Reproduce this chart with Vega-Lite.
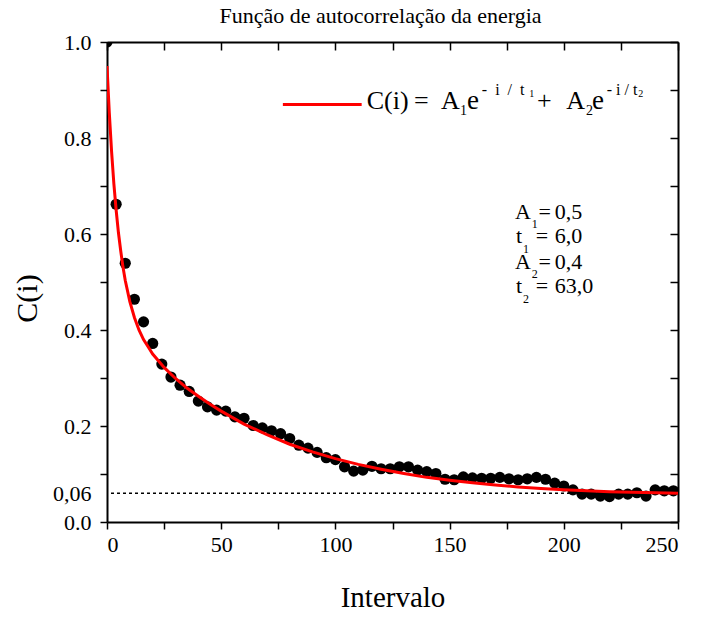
{
  "$schema": "https://vega.github.io/schema/vega-lite/v6.json",
  "width": 571,
  "height": 480,
  "autosize": "none",
  "padding": {"left": 107, "top": 42, "right": 23, "bottom": 95},
  "background": "white",
  "config": {
    "view": {"stroke": null},
    "font": "Liberation Serif",
    "text": {"font": "Liberation Serif", "color": "black", "align": "left", "baseline": "alphabetic"},
    "axis": {
      "grid": false,
      "domainColor": "black",
      "domainWidth": 2,
      "tickColor": "black",
      "tickWidth": 1.5,
      "labelFont": "Liberation Serif",
      "labelFontSize": 22,
      "labelColor": "black",
      "titleFont": "Liberation Serif",
      "titleFontWeight": "normal",
      "titleColor": "black",
      "labelOverlap": false
    }
  },
  "title": {
    "text": "Função de autocorrelação da energia",
    "font": "Liberation Serif",
    "fontSize": 22,
    "fontWeight": "normal",
    "color": "black",
    "anchor": "middle",
    "offset": 3,
    "dx": -12
  },
  "datasets": {
    "pts": [
      {"i": 0, "c": 1.0}, {"i": 4, "c": 0.662}, {"i": 8, "c": 0.539}, {"i": 12, "c": 0.464},
      {"i": 16, "c": 0.417}, {"i": 20, "c": 0.372}, {"i": 24, "c": 0.329}, {"i": 28, "c": 0.302},
      {"i": 32, "c": 0.285}, {"i": 36, "c": 0.272}, {"i": 40, "c": 0.252}, {"i": 44, "c": 0.240},
      {"i": 48, "c": 0.233}, {"i": 52, "c": 0.231}, {"i": 56, "c": 0.219}, {"i": 60, "c": 0.216},
      {"i": 64, "c": 0.201}, {"i": 68, "c": 0.196}, {"i": 72, "c": 0.190}, {"i": 76, "c": 0.184},
      {"i": 80, "c": 0.174}, {"i": 84, "c": 0.160}, {"i": 88, "c": 0.154}, {"i": 92, "c": 0.145},
      {"i": 96, "c": 0.134}, {"i": 100, "c": 0.130}, {"i": 104, "c": 0.115}, {"i": 108, "c": 0.106},
      {"i": 112, "c": 0.108}, {"i": 116, "c": 0.116}, {"i": 120, "c": 0.111}, {"i": 124, "c": 0.111},
      {"i": 128, "c": 0.115}, {"i": 132, "c": 0.115}, {"i": 136, "c": 0.108}, {"i": 140, "c": 0.105},
      {"i": 144, "c": 0.101}, {"i": 148, "c": 0.089}, {"i": 152, "c": 0.088}, {"i": 156, "c": 0.094},
      {"i": 160, "c": 0.092}, {"i": 164, "c": 0.091}, {"i": 168, "c": 0.091}, {"i": 172, "c": 0.093},
      {"i": 176, "c": 0.090}, {"i": 180, "c": 0.088}, {"i": 184, "c": 0.090}, {"i": 188, "c": 0.093},
      {"i": 192, "c": 0.089}, {"i": 196, "c": 0.081}, {"i": 200, "c": 0.075}, {"i": 204, "c": 0.067},
      {"i": 208, "c": 0.058}, {"i": 212, "c": 0.058}, {"i": 216, "c": 0.054}, {"i": 220, "c": 0.053},
      {"i": 224, "c": 0.058}, {"i": 228, "c": 0.058}, {"i": 232, "c": 0.061}, {"i": 236, "c": 0.054},
      {"i": 240, "c": 0.067}, {"i": 244, "c": 0.065}, {"i": 248, "c": 0.065}
    ],
    "fit": [
      {"i": 0, "c": 0.95}, {"i": 1, "c": 0.853}, {"i": 2, "c": 0.772}, {"i": 3, "c": 0.705},
      {"i": 4, "c": 0.650}, {"i": 5, "c": 0.603}, {"i": 6, "c": 0.565}, {"i": 7, "c": 0.531},
      {"i": 8, "c": 0.503}, {"i": 10, "c": 0.459}, {"i": 12, "c": 0.426}, {"i": 14, "c": 0.400},
      {"i": 16, "c": 0.380}, {"i": 18, "c": 0.365}, {"i": 20, "c": 0.350}, {"i": 25, "c": 0.322},
      {"i": 30, "c": 0.299}, {"i": 35, "c": 0.279}, {"i": 40, "c": 0.262}, {"i": 45, "c": 0.246},
      {"i": 50, "c": 0.231}, {"i": 60, "c": 0.204}, {"i": 70, "c": 0.182}, {"i": 80, "c": 0.162},
      {"i": 90, "c": 0.146}, {"i": 100, "c": 0.132}, {"i": 110, "c": 0.120}, {"i": 120, "c": 0.110},
      {"i": 130, "c": 0.101}, {"i": 140, "c": 0.093}, {"i": 150, "c": 0.087}, {"i": 160, "c": 0.082},
      {"i": 170, "c": 0.077}, {"i": 180, "c": 0.073}, {"i": 190, "c": 0.070}, {"i": 200, "c": 0.067},
      {"i": 210, "c": 0.065}, {"i": 220, "c": 0.063}, {"i": 230, "c": 0.062}, {"i": 240, "c": 0.061},
      {"i": 250, "c": 0.060}
    ]
  },
  "layer": [
    {
      "data": {"values": [{}]},
      "mark": {"type": "rule", "color": "black", "strokeWidth": 1.5, "strokeDash": [3, 3]},
      "encoding": {
        "y": {"datum": 0.06, "type": "quantitative", "axis": null}
      }
    },
    {
      "data": {"name": "pts"},
      "mark": {"type": "circle", "size": 125, "color": "black", "opacity": 1, "clip": true},
      "encoding": {
        "x": {
          "field": "i", "type": "quantitative",
          "scale": {"domain": [0, 250], "nice": false},
          "axis": {
            "orient": "bottom",
            "values": [0, 25, 50, 75, 100, 125, 150, 175, 200, 225, 250],
            "labelExpr": "datum.value % 50 == 0 ? datum.label : ''",
            "tickSize": 7,
            "labelPadding": 5,
            "title": "Intervalo",
            "titleFontSize": 29,
            "titlePadding": 28
          }
        },
        "y": {
          "field": "c", "type": "quantitative",
          "scale": {"domain": [0, 1], "nice": false},
          "axis": {
            "orient": "left",
            "values": [0, 0.06, 0.1, 0.2, 0.3, 0.4, 0.5, 0.6, 0.7, 0.8, 0.9, 1.0],
            "labelExpr": "datum.value == 0.06 ? '0,06' : (round(datum.value * 10) % 2 == 0 ? format(datum.value, '.1f') : '')",
            "tickSize": 7,
            "tickOpacity": {"condition": {"test": "datum.value == 0.06", "value": 0}, "value": 1},
            "labelPadding": 9,
            "title": "C(i)",
            "titleFontSize": 30,
            "titlePadding": 10,
            "titleY": 256
          }
        }
      }
    },
    {
      "data": {"name": "fit"},
      "mark": {"type": "line", "color": "#ff0000", "strokeWidth": 3, "clip": true},
      "encoding": {
        "x": {
          "field": "i", "type": "quantitative",
          "scale": {"domain": [0, 250], "nice": false},
          "axis": {
            "orient": "top",
            "values": [0, 25, 50, 75, 100, 125, 150, 175, 200, 225, 250],
            "labels": false, "tickSize": -8, "title": null
          }
        },
        "y": {
          "field": "c", "type": "quantitative",
          "scale": {"domain": [0, 1], "nice": false},
          "axis": {
            "orient": "right",
            "values": [0, 0.1, 0.2, 0.3, 0.4, 0.5, 0.6, 0.7, 0.8, 0.9, 1.0],
            "labels": false, "tickSize": -8, "title": null
          }
        }
      }
    },
    {
      "data": {"values": [{}]},
      "mark": {"type": "rule", "color": "#ff0000", "strokeWidth": 3},
      "encoding": {
        "x": {"datum": 77, "type": "quantitative", "axis": null},
        "x2": {"datum": 111.5},
        "y": {"datum": 0.870, "type": "quantitative", "axis": null}
      }
    },
    {"data": {"values": [{}]}, "mark": {"type": "text", "text": "C(i)", "fontSize": 26},
      "encoding": {"x": {"datum": 113.7, "type": "quantitative", "axis": null}, "y": {"datum": 0.8598, "type": "quantitative", "axis": null}}},
    {"data": {"values": [{}]}, "mark": {"type": "text", "text": "=", "fontSize": 26},
      "encoding": {"x": {"datum": 134.4, "type": "quantitative", "axis": null}, "y": {"datum": 0.8598, "type": "quantitative", "axis": null}}},
    {"data": {"values": [{}]}, "mark": {"type": "text", "text": "A", "fontSize": 26},
      "encoding": {"x": {"datum": 146.2, "type": "quantitative", "axis": null}, "y": {"datum": 0.8598, "type": "quantitative", "axis": null}}},
    {"data": {"values": [{}]}, "mark": {"type": "text", "text": "1", "fontSize": 14},
      "encoding": {"x": {"datum": 154.6, "type": "quantitative", "axis": null}, "y": {"datum": 0.848, "type": "quantitative", "axis": null}}},
    {"data": {"values": [{}]}, "mark": {"type": "text", "text": "e", "fontSize": 27},
      "encoding": {"x": {"datum": 157.6, "type": "quantitative", "axis": null}, "y": {"datum": 0.8598, "type": "quantitative", "axis": null}}},
    {"data": {"values": [{}]}, "mark": {"type": "text", "text": "-\u00a0\u00a0i\u00a0\u00a0/\u00a0\u00a0t", "fontSize": 16},
      "encoding": {"x": {"datum": 164.1, "type": "quantitative", "axis": null}, "y": {"datum": 0.8896, "type": "quantitative", "axis": null}}},
    {"data": {"values": [{}]}, "mark": {"type": "text", "text": "1", "fontSize": 10},
      "encoding": {"x": {"datum": 184.9, "type": "quantitative", "axis": null}, "y": {"datum": 0.8848, "type": "quantitative", "axis": null}}},
    {"data": {"values": [{}]}, "mark": {"type": "text", "text": "+", "fontSize": 26},
      "encoding": {"x": {"datum": 188.3, "type": "quantitative", "axis": null}, "y": {"datum": 0.8598, "type": "quantitative", "axis": null}}},
    {"data": {"values": [{}]}, "mark": {"type": "text", "text": "A", "fontSize": 26},
      "encoding": {"x": {"datum": 201.1, "type": "quantitative", "axis": null}, "y": {"datum": 0.8598, "type": "quantitative", "axis": null}}},
    {"data": {"values": [{}]}, "mark": {"type": "text", "text": "2", "fontSize": 14},
      "encoding": {"x": {"datum": 209.7, "type": "quantitative", "axis": null}, "y": {"datum": 0.848, "type": "quantitative", "axis": null}}},
    {"data": {"values": [{}]}, "mark": {"type": "text", "text": "e", "fontSize": 27},
      "encoding": {"x": {"datum": 212.3, "type": "quantitative", "axis": null}, "y": {"datum": 0.8598, "type": "quantitative", "axis": null}}},
    {"data": {"values": [{}]}, "mark": {"type": "text", "text": "-\u00a0i\u00a0/\u00a0t", "fontSize": 16},
      "encoding": {"x": {"datum": 218.8, "type": "quantitative", "axis": null}, "y": {"datum": 0.8896, "type": "quantitative", "axis": null}}},
    {"data": {"values": [{}]}, "mark": {"type": "text", "text": "2", "fontSize": 10},
      "encoding": {"x": {"datum": 232.6, "type": "quantitative", "axis": null}, "y": {"datum": 0.8848, "type": "quantitative", "axis": null}}},

    {"data": {"values": [{}]}, "mark": {"type": "text", "text": "A", "fontSize": 22},
      "encoding": {"x": {"datum": 178.6, "type": "quantitative", "axis": null}, "y": {"datum": 0.6306, "type": "quantitative", "axis": null}}},
    {"data": {"values": [{}]}, "mark": {"type": "text", "text": "1", "fontSize": 12},
      "encoding": {"x": {"datum": 186.0, "type": "quantitative", "axis": null}, "y": {"datum": 0.6119, "type": "quantitative", "axis": null}}},
    {"data": {"values": [{}]}, "mark": {"type": "text", "text": "=", "fontSize": 22},
      "encoding": {"x": {"datum": 188.9, "type": "quantitative", "axis": null}, "y": {"datum": 0.6306, "type": "quantitative", "axis": null}}},
    {"data": {"values": [{}]}, "mark": {"type": "text", "text": "0,5", "fontSize": 22},
      "encoding": {"x": {"datum": 196.0, "type": "quantitative", "axis": null}, "y": {"datum": 0.6306, "type": "quantitative", "axis": null}}},

    {"data": {"values": [{}]}, "mark": {"type": "text", "text": "t", "fontSize": 22},
      "encoding": {"x": {"datum": 179.1, "type": "quantitative", "axis": null}, "y": {"datum": 0.5806, "type": "quantitative", "axis": null}}},
    {"data": {"values": [{}]}, "mark": {"type": "text", "text": "1", "fontSize": 12},
      "encoding": {"x": {"datum": 182.1, "type": "quantitative", "axis": null}, "y": {"datum": 0.5598, "type": "quantitative", "axis": null}}},
    {"data": {"values": [{}]}, "mark": {"type": "text", "text": "=", "fontSize": 22},
      "encoding": {"x": {"datum": 187.7, "type": "quantitative", "axis": null}, "y": {"datum": 0.5806, "type": "quantitative", "axis": null}}},
    {"data": {"values": [{}]}, "mark": {"type": "text", "text": "6,0", "fontSize": 22},
      "encoding": {"x": {"datum": 196.0, "type": "quantitative", "axis": null}, "y": {"datum": 0.5806, "type": "quantitative", "axis": null}}},

    {"data": {"values": [{}]}, "mark": {"type": "text", "text": "A", "fontSize": 22},
      "encoding": {"x": {"datum": 178.6, "type": "quantitative", "axis": null}, "y": {"datum": 0.5265, "type": "quantitative", "axis": null}}},
    {"data": {"values": [{}]}, "mark": {"type": "text", "text": "2", "fontSize": 12},
      "encoding": {"x": {"datum": 186.0, "type": "quantitative", "axis": null}, "y": {"datum": 0.5077, "type": "quantitative", "axis": null}}},
    {"data": {"values": [{}]}, "mark": {"type": "text", "text": "=", "fontSize": 22},
      "encoding": {"x": {"datum": 188.9, "type": "quantitative", "axis": null}, "y": {"datum": 0.5265, "type": "quantitative", "axis": null}}},
    {"data": {"values": [{}]}, "mark": {"type": "text", "text": "0,4", "fontSize": 22},
      "encoding": {"x": {"datum": 196.0, "type": "quantitative", "axis": null}, "y": {"datum": 0.5265, "type": "quantitative", "axis": null}}},

    {"data": {"values": [{}]}, "mark": {"type": "text", "text": "t", "fontSize": 22},
      "encoding": {"x": {"datum": 179.1, "type": "quantitative", "axis": null}, "y": {"datum": 0.4765, "type": "quantitative", "axis": null}}},
    {"data": {"values": [{}]}, "mark": {"type": "text", "text": "2", "fontSize": 12},
      "encoding": {"x": {"datum": 182.1, "type": "quantitative", "axis": null}, "y": {"datum": 0.4556, "type": "quantitative", "axis": null}}},
    {"data": {"values": [{}]}, "mark": {"type": "text", "text": "=", "fontSize": 22},
      "encoding": {"x": {"datum": 187.7, "type": "quantitative", "axis": null}, "y": {"datum": 0.4765, "type": "quantitative", "axis": null}}},
    {"data": {"values": [{}]}, "mark": {"type": "text", "text": "63,0", "fontSize": 22},
      "encoding": {"x": {"datum": 196.0, "type": "quantitative", "axis": null}, "y": {"datum": 0.4765, "type": "quantitative", "axis": null}}}
  ],
  "resolve": {"axis": {"x": "independent", "y": "independent"}}
}
